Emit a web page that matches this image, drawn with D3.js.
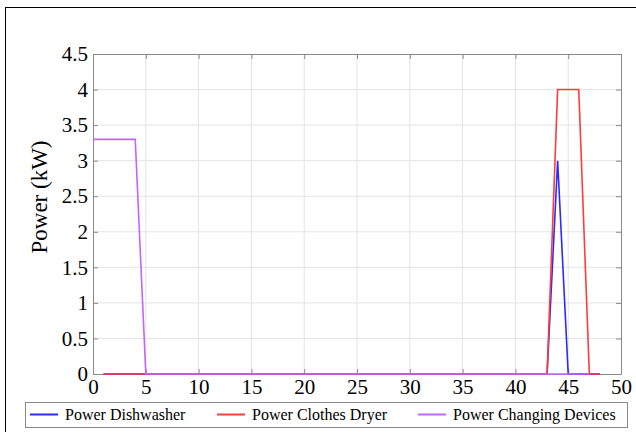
<!DOCTYPE html>
<html>
<head>
<meta charset="utf-8">
<script src="https://cdn.jsdelivr.net/npm/d3@7"></script>
<style>
  body { margin: 0; background: #fff; }
</style>
</head>
<body>
<div class="chart"></div>
<script>
// hours and power readings (kW)
const dishX = [1, 43, 44, 45, 48];
const dishY = [0, 0, 3, 0, 0];
const dryerX = [1, 43, 44, 46, 47, 48];
const dryerY = [0, 0, 4, 4, 0, 0];
const chargeX = [0, 4, 5, 47];
const chargeY = [3.3, 3.3, 0, 0];

const xTicks = d3.range(0, 51, 5);
const yTicks = d3.range(0, 4.51, 0.5);

const series = [
	{ name: "Power Dishwasher", x: dishX, y: dishY, color: "#2b2bff" },
	{ name: "Power Clothes Dryer", x: dryerX, y: dryerY, color: "#ff3c3c" },
	{ name: "Power Changing Devices", x: chargeX, y: chargeY, color: "#c264ff" }
];

const width = 636, height = 432;
const margin = { left: 93, right: 15, top: 54, bottom: 58 };
const serif = "'Liberation Serif'";

const svg = d3.select("div.chart").append("svg")
	.attr("width", width)
	.attr("height", height);

// outer figure frame
svg.append("rect")
	.attr("x", 5.5).attr("y", 7.5)
	.attr("width", 700).attr("height", 500)
	.attr("fill", "none").attr("stroke", "#000").attr("stroke-width", 1);

const x = d3.scaleLinear().domain([0, 50]).range([margin.left, width - margin.right]);
const y = d3.scaleLinear().domain([0, 4.5]).range([height - margin.bottom, margin.top]);

// grid
svg.append("g").selectAll("line.vx")
	.data(xTicks.slice(1, -1))
	.join("line")
	  .attr("x1", d => x(d)).attr("x2", d => x(d))
	  .attr("y1", y(0)).attr("y2", y(4.5))
	  .attr("stroke", "#e4e4e4");
svg.append("g").selectAll("line.hy")
	.data(yTicks.slice(1, -1))
	.join("line")
	  .attr("x1", x(0)).attr("x2", x(50))
	  .attr("y1", d => y(d)).attr("y2", d => y(d))
	  .attr("stroke", "#e4e4e4");

// axes with inward ticks
const fmt = d => String(+d.toFixed(1));
const xAxis = svg.append("g")
	.attr("transform", "translate(0," + y(0) + ")")
	.call(d3.axisBottom(x).tickValues(xTicks).tickSizeInner(-5).tickSizeOuter(0).tickPadding(5));
const xTop = svg.append("g")
	.attr("transform", "translate(0," + y(4.5) + ")")
	.call(d3.axisTop(x).tickValues(xTicks).tickSizeInner(-5).tickSizeOuter(0).tickFormat(""));
const yAxis = svg.append("g")
	.attr("transform", "translate(" + x(0) + ",0)")
	.call(d3.axisLeft(y).tickValues(yTicks).tickFormat(fmt).tickSizeInner(-5).tickSizeOuter(0).tickPadding(5));
const yRight = svg.append("g")
	.attr("transform", "translate(" + x(50) + ",0)")
	.call(d3.axisRight(y).tickValues(yTicks).tickSizeInner(-5).tickSizeOuter(0).tickFormat(""));

[xAxis, xTop, yAxis, yRight].forEach(a => {
	a.selectAll("path, line").attr("stroke", "#8a8a8a");
	a.selectAll("text")
		.style("font-family", serif)
		.style("font-size", "21px")
		.attr("fill", "#000");
});

svg.append("text")
	.attr("transform", "translate(47,197) rotate(-90)")
	.attr("text-anchor", "middle")
	.style("font-family", serif)
	.style("font-size", "23px")
	.text("Power (kW)");

// lines
const line = d3.line();
svg.append("g").selectAll("path")
	.data(series)
	.join("path")
	  .attr("d", s => line(s.x.map((v, i) => [x(v), y(s.y[i])])))
	  .attr("fill", "none")
	  .attr("stroke", s => s.color)
	  .attr("stroke-width", 1.6);

// legend
const legend = svg.append("g");
legend.append("rect")
	.attr("x", 25.5).attr("y", 402.5)
	.attr("width", 602).attr("height", 25)
	.attr("fill", "#fff").attr("stroke", "#8a8a8a");
const itemX = [30, 217, 418];
series.forEach((s, i) => {
	legend.append("line")
		.attr("x1", itemX[i]).attr("x2", itemX[i] + 28)
		.attr("y1", 414.5).attr("y2", 414.5)
		.attr("stroke", s.color).attr("stroke-width", 2);
	legend.append("text")
		.attr("x", itemX[i] + 35).attr("y", 420)
		.style("font-family", serif)
		.style("font-size", "16px")
		.text(s.name);
});
</script>
</body>
</html>
